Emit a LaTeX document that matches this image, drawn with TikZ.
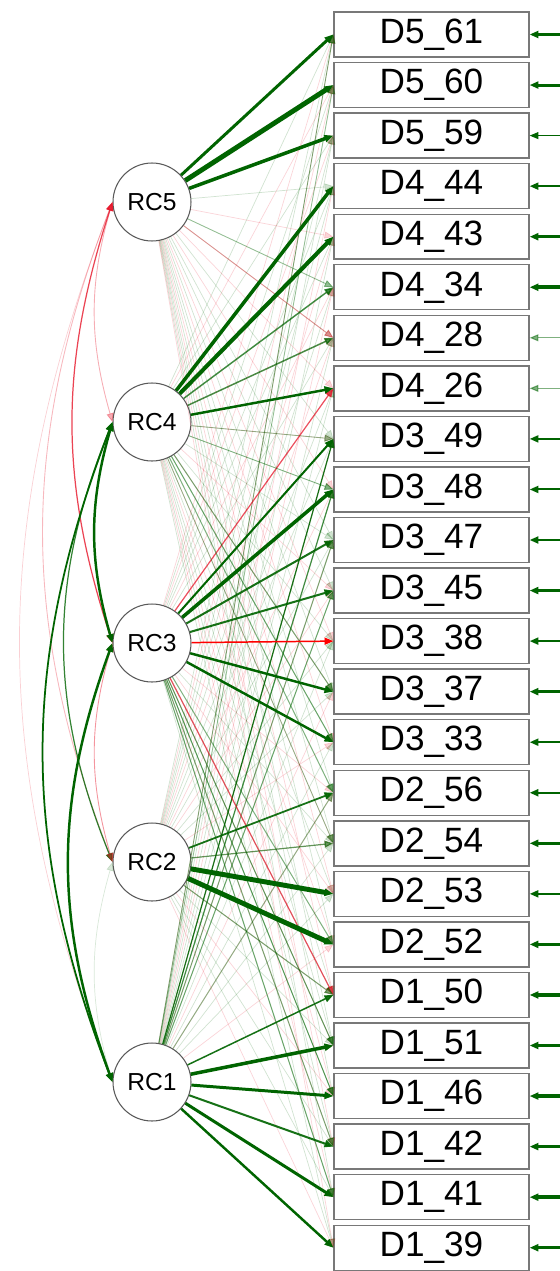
\documentclass[tikz,border=0pt]{standalone}
\usepackage{fontspec}
\setmainfont{Liberation Sans}
\usetikzlibrary{arrows.meta,positioning}
\definecolor{posgreen}{RGB}{0,100,0}
\definecolor{negred}{RGB}{230,20,40}
\definecolor{boxline}{RGB}{120,120,120}

\begin{document}
\begin{tikzpicture}[
  x=0.02cm, y=-0.02cm,
  every node/.style={font=\fontsize{20}{23}\selectfont},
  item/.style={draw=boxline, line width=0.8pt, fill=white, minimum width=3.9cm, minimum height=0.9cm, inner sep=0pt},
  fac/.style={circle, draw=black!65, line width=0.6pt, fill=white, minimum size=1.56cm, inner sep=0pt, font=\fontsize{14}{16}\selectfont},
  arr/.style={-{Triangle[length=5pt,width=4pt]}},
  faint/.style={arr, line width=0.4pt, opacity=0.18},
  resid/.style={arr, posgreen},
  corr/.style={{Triangle[length=5pt,width=4pt]}-{Triangle[length=5pt,width=4pt]}}
]
  \useasboundingbox (0,0) rectangle (560,1271);

  \foreach \f/\n [count=\i] in {5/61,5/60,5/59,4/44,4/43,4/34,4/28,4/26,3/49,3/48,3/47,3/45,3/38,3/37,3/33,2/56,2/54,2/53,2/52,1/50,1/51,1/46,1/42,1/41,1/39}
    \node[item] (d\n) at (431.5,{34.5+50.55*(\i-1)}) {D\f\_\n};
  \foreach \r/\y in {5/202,4/422,3/643,2/862,1/1082}
    \node[fac] (rc\r) at (152,\y) {RC\r};

  \foreach \r in {1,...,5}{
    \foreach \n [count=\i] in {61,60,59,44,43,34,28,26,49,48,47,45,38,37,33,56,54,53,52,50,51,46,42,41,39}{
      \pgfmathtruncatemacro\k{mod(\i*7+\r*3,5)}
      \ifnum\k<2 \def\c{negred}\else\def\c{posgreen}\fi
      \draw[faint,\c] (rc\r) -- (d\n.west);
    }
  }

  \foreach \r/\n/\c/\w/\o in {1/49/posgreen/0.7/0.9, 1/48/posgreen/0.7/0.7, 1/47/posgreen/0.6/0.5, 1/45/posgreen/0.6/0.5,
      1/56/posgreen/0.6/0.4, 1/61/posgreen/0.5/0.5, 1/60/posgreen/0.5/0.3, 3/50/negred/0.7/0.7, 3/26/negred/0.7/0.7,
      3/51/posgreen/0.6/0.6, 3/46/posgreen/0.6/0.6, 3/42/posgreen/0.6/0.5, 3/41/posgreen/0.6/0.5, 3/52/posgreen/0.6/0.4,
      2/50/posgreen/0.6/0.5, 4/37/posgreen/0.6/0.5, 4/33/posgreen/0.6/0.5, 4/56/posgreen/0.6/0.4, 4/54/posgreen/0.5/0.4,
      4/49/posgreen/0.5/0.4, 4/48/posgreen/0.5/0.4, 5/28/negred/0.5/0.4, 5/34/posgreen/0.5/0.3}
    \draw[arr,\c,line width=\w pt,opacity=\o] (rc\r) -- (d\n.west);

  \foreach \r/\n/\w/\o in {5/61/1.7/1, 5/60/2.8/1, 5/59/2.0/1,
      4/44/2.0/1, 4/43/2.3/1, 4/34/0.85/0.7, 4/28/0.85/0.7, 4/26/1.4/1,
      3/49/1.15/1, 3/48/2.0/1, 3/47/1.15/0.9, 3/45/1.15/0.9, 3/37/1.4/1, 3/33/1.4/1,
      2/56/1.0/0.9, 2/54/0.7/0.6, 2/53/2.8/1, 2/52/2.8/1,
      1/50/0.85/0.9, 1/51/2.0/1, 1/46/1.7/1, 1/42/1.15/0.9, 1/41/1.7/1, 1/39/1.4/1}
    \draw[arr,posgreen,line width=\w pt,opacity=\o] (rc\r) -- (d\n.west);
  \draw[arr,red,line width=0.85pt] (rc3) -- (d38.west);

  \coordinate (rim) at (562,0);
  \foreach \n/\w/\o in {61/2.0/1, 60/1.7/1, 59/0.6/1, 44/1.15/1, 43/2.0/1, 34/2.0/1, 28/0.6/0.5,
      26/0.6/0.5, 49/1.15/1, 48/1.15/1, 47/1.15/1, 45/1.4/1, 38/1.15/1, 37/2.0/1, 33/1.15/1,
      56/1.15/1, 54/1.7/1, 53/1.15/1, 52/1.4/1, 50/2.0/1, 51/1.4/1, 46/2.0/1, 42/1.7/1,
      41/2.0/1, 39/1.4/1}
    \draw[resid,line width=\w pt,opacity=\o] (rim |- d\n.east) -- (d\n.east);

  \draw[corr,negred,line width=0.5pt,opacity=0.35] (rc5.west) to[bend right=16] (rc4.west);
  \draw[corr,negred,line width=0.7pt,opacity=0.8] (rc5.west) to[bend right=18] (rc3.west);
  \draw[corr,negred,line width=0.5pt,opacity=0.3] (rc5.west) to[bend right=21] (rc2.west);
  \draw[corr,negred,line width=0.4pt,opacity=0.2] (rc5.west) to[bend right=21] (rc1.west);
  \draw[corr,posgreen,line width=1.4pt] (rc4.west) to[bend right=16] (rc3.west);
  \draw[corr,posgreen,line width=0.7pt,opacity=0.8] (rc4.west) to[bend right=22] (rc2.west);
  \draw[corr,posgreen,line width=1.0pt] (rc4.west) to[bend right=21] (rc1.west);
  \draw[corr,negred,line width=0.5pt,opacity=0.45] (rc3.west) to[bend right=16] (rc2.west);
  \draw[corr,posgreen,line width=1.4pt] (rc3.west) to[bend right=20] (rc1.west);
  \draw[corr,posgreen,line width=0.4pt,opacity=0.15] (rc2.west) to[bend right=16] (rc1.west);
\end{tikzpicture}
\end{document}
